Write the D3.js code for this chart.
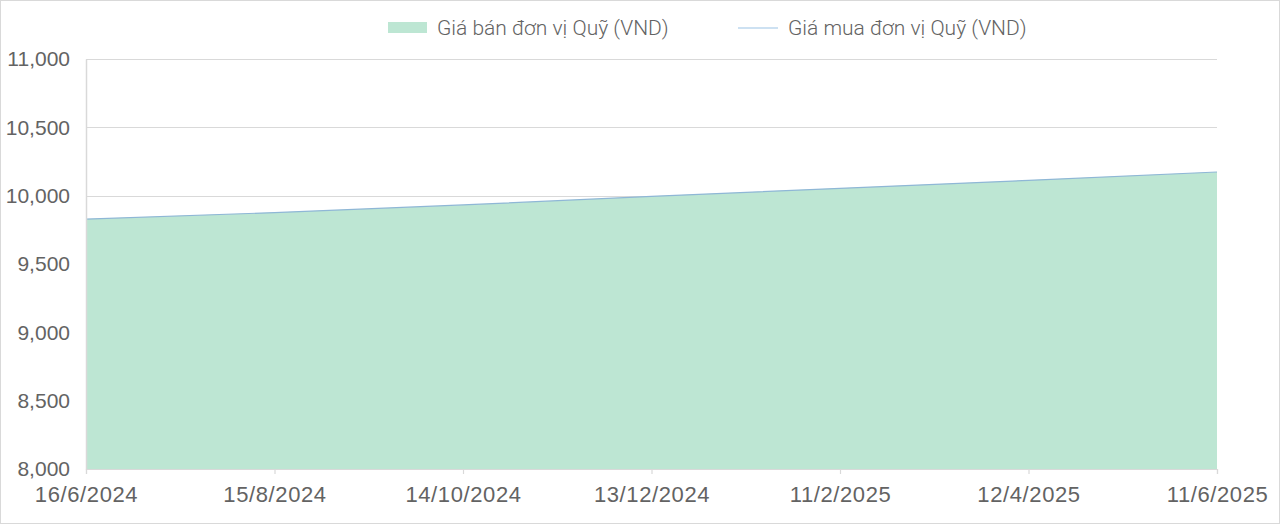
<!DOCTYPE html>
<html>
<head>
<meta charset="utf-8">
<script src="https://cdn.jsdelivr.net/npm/d3@7"></script>
<style>
  html, body { margin: 0; padding: 0; background: #fff; }
  svg { display: block; font-family: Roboto, "Liberation Sans", sans-serif; }
  .tick text { fill: #636363; }
</style>
</head>
<body>
<div id="chart"></div>
<script>
'use strict';

// dates of each reading (d/m/yyyy) and the unit prices
const dates = ["16/6/2024", "15/8/2024", "14/10/2024", "13/12/2024", "11/2/2025", "12/4/2025", "11/6/2025"];
const sell_price = [9829, 9876, 9932, 9995, 10054, 10112, 10173];
const buy_price = [9829, 9876, 9932, 9995, 10054, 10112, 10173];
const y_ticks = [8000, 8500, 9000, 9500, 10000, 10500, 11000];
const series_names = ["Giá bán đơn vị Quỹ (VND)", "Giá mua đơn vị Quỹ (VND)"];

const width = 1280;
const height = 524;
const margin = {top: 59, right: 63, bottom: 55, left: 86};

const parse_date = d3.timeParse("%-d/%-m/%Y");
const fmt_date = d3.timeFormat("%-d/%-m/%Y");

const rows = dates.map(function(d, i) {
  return {date: parse_date(d), sell: sell_price[i], buy: buy_price[i]};
});

const svg = d3.select("#chart").append("svg")
  .attr("width", width)
  .attr("height", height);

// outer frame
svg.append("rect")
  .attr("x", 0.5).attr("y", 0.5)
  .attr("width", width - 1).attr("height", height - 1)
  .attr("fill", "none")
  .attr("stroke", "#d9d9d9");

const x = d3.scaleTime()
  .domain(d3.extent(rows, d => d.date))
  .range([margin.left, width - margin.right]);

const y = d3.scaleLinear()
  .domain([8000, 11000])
  .range([height - margin.bottom, margin.top]);

/* gridlines */
svg.append("g")
  .selectAll("line")
  .data(y_ticks.slice(1))
  .enter().append("line")
  .attr("x1", margin.left)
  .attr("x2", width - margin.right)
  .attr("y1", d => Math.round(y(d)) + 0.5)
  .attr("y2", d => Math.round(y(d)) + 0.5)
  .attr("stroke", "#d9d9d9")
  .attr("stroke-width", 1.2);

/* sell price area */
const area = d3.area()
  .x(d => x(d.date))
  .y0(y(8000))
  .y1(d => y(d.sell));

svg.append("path")
  .datum(rows)
  .attr("fill", "#bde6d3")
  .attr("d", area);

/* buy price line */
const line = d3.line()
  .x(d => x(d.date))
  .y(d => y(d.buy));

svg.append("path")
  .datum(rows)
  .attr("fill", "none")
  .attr("stroke", "#8fb7d6")
  .attr("stroke-width", 1.2)
  .attr("d", line);

/* y axis */
const y_axis = svg.append("g")
  .attr("transform", `translate(${margin.left},0)`)
  .call(d3.axisLeft(y).tickValues(y_ticks).tickSize(0).tickPadding(16).tickFormat(d3.format(",")));
y_axis.select(".domain").attr("stroke", "#d9d9d9").attr("stroke-width", 1.5);
y_axis.selectAll("text").attr("font-size", 21).attr("font-weight", 300);

/* x axis */
const x_axis = svg.append("g")
  .attr("transform", `translate(0,${height - margin.bottom})`)
  .call(d3.axisBottom(x).tickValues(rows.map(d => d.date)).tickSize(5).tickPadding(12).tickFormat(fmt_date));
x_axis.select(".domain").attr("stroke", "#d9d9d9").attr("stroke-width", 1.2);
x_axis.selectAll(".tick line").attr("stroke", "#d9d9d9").attr("stroke-width", 1.2);
x_axis.selectAll("text").attr("font-size", 22).attr("font-weight", 300).attr("letter-spacing", 0.6);

/* legend */
const legend = svg.append("g").attr("font-size", 21).attr("font-weight", 300).attr("fill", "#636363");

legend.append("rect")
  .attr("x", 388).attr("y", 22)
  .attr("width", 39).attr("height", 11)
  .attr("fill", "#bde6d3");
legend.append("text")
  .attr("x", 437).attr("y", 35)
  .text(series_names[0]);

legend.append("line")
  .attr("x1", 738).attr("x2", 778)
  .attr("y1", 28).attr("y2", 28)
  .attr("stroke", "#bdd7ee")
  .attr("stroke-width", 1.5);
legend.append("text")
  .attr("x", 788).attr("y", 35)
  .text(series_names[1]);
</script>
</body>
</html>
